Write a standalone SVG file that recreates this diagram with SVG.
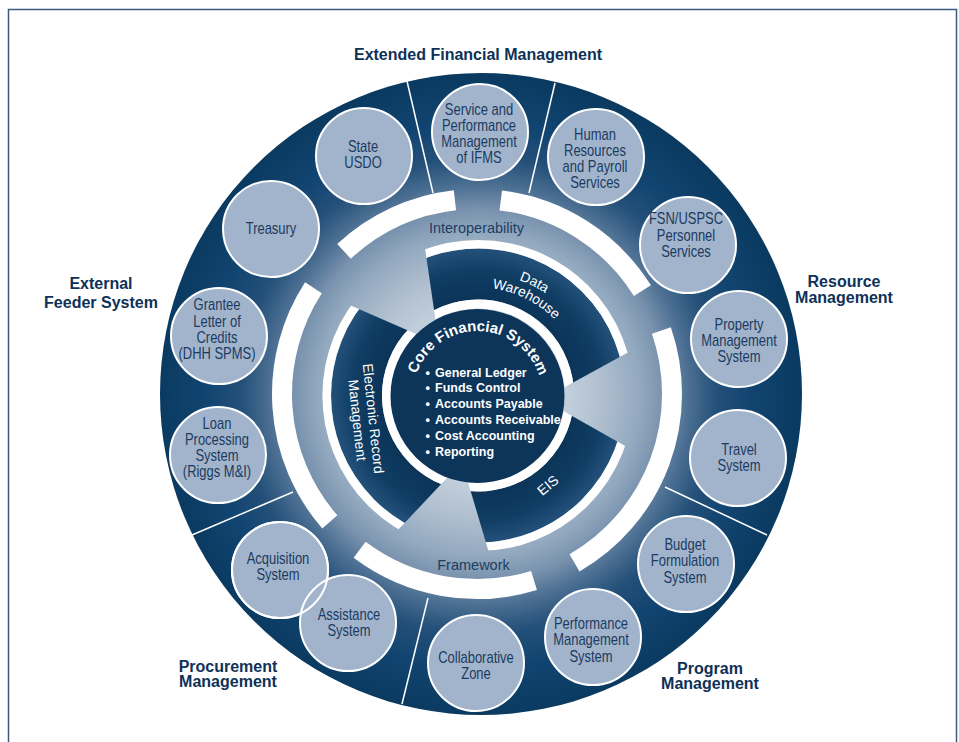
<svg xmlns="http://www.w3.org/2000/svg" width="959" height="742" viewBox="0 0 959 742">
  <defs>
    <radialGradient id="discFill" gradientUnits="userSpaceOnUse" cx="479" cy="395" r="321">
      <stop offset="0" stop-color="#d3dce6"/>
      <stop offset="0.25" stop-color="#c6d2de"/>
      <stop offset="0.38" stop-color="#b1c0d0"/>
      <stop offset="0.5" stop-color="#93a9bf"/>
      <stop offset="0.58" stop-color="#7891ad"/>
      <stop offset="0.65" stop-color="#4e7194"/>
      <stop offset="0.74" stop-color="#245079"/>
      <stop offset="0.85" stop-color="#114470"/>
      <stop offset="1" stop-color="#0a3a60"/>
    </radialGradient>
    <radialGradient id="ringFill" gradientUnits="userSpaceOnUse" cx="478" cy="395.5" r="147">
      <stop offset="0.65" stop-color="#0b3458"/>
      <stop offset="0.85" stop-color="#103d63"/>
      <stop offset="1" stop-color="#23517a"/>
    </radialGradient>
    <!-- baselines for the curved labels -->
    <path id="arcData" d="M410.38 293.34 A122.5 122.5 0 0 1 600.26 388.02"/>
    <path id="arcWarehouse" d="M418.40 305.44 A108 108 0 0 1 585.80 388.91"/>
    <path id="arcCore" d="M412.51 394.87 A65 65 0 0 1 542.49 397.13"/>
  </defs>
  <style>
    .frame { fill: none; stroke: #3a5b7b; stroke-width: 1.5; }
    .white-arc { fill: none; stroke: #ffffff; stroke-width: 20; }
    .divider { stroke: #ffffff; stroke-width: 1.5; }
    .node circle { fill: #a2b4cb; stroke: #ffffff; stroke-width: 2; }
    .node circle.edge-ring { fill: none; }
    .node text { font-family: "Liberation Sans", Arial, sans-serif; font-size: 16px; fill: #1b3b61; text-anchor: middle; }
    .group-label { font-family: "Liberation Sans", Arial, sans-serif; font-weight: bold; font-size: 16px; fill: #0e3157; text-anchor: middle; }
    .band-label { font-family: "Liberation Sans", Arial, sans-serif; font-size: 14.5px; fill: #1d3d62; text-anchor: middle; }
    .seg-label { font-family: "Liberation Sans", Arial, sans-serif; font-size: 14px; fill: #ffffff; text-anchor: middle; }
    .core-title { font-family: "Liberation Sans", Arial, sans-serif; font-weight: bold; font-size: 15px; fill: #ffffff; text-anchor: middle; }
    .core-item { font-family: "Liberation Sans", Arial, sans-serif; font-weight: bold; font-size: 12.5px; fill: #ffffff; }
  </style>

  <rect class="frame" x="8.5" y="9.5" width="948" height="760"/>

  <!-- outer disc -->
  <circle cx="481" cy="394" r="321" fill="url(#discFill)"/>

  <!-- inner rings around the core -->
  <g id="inner-rings">
    <circle cx="478" cy="395.5" r="121.5" fill="none" stroke="url(#ringFill)" stroke-width="51"/>
    <circle cx="478" cy="395.5" r="151.3" fill="none" stroke="#ffffff" stroke-width="8.6"/>
    <circle cx="478" cy="395.5" r="91.5" fill="none" stroke="#ffffff" stroke-width="9"/>
    <!-- light openings between the ring segments -->
    <polygon points="542.5,399.3 680,324 680,477" fill="url(#discFill)"/>
    <polygon points="462,462 332,600 503,600" fill="url(#discFill)"/>
    <polygon points="439,344 290,279 418,200" fill="url(#discFill)"/>
  </g>

  <!-- outer white band segments -->
  <g id="outer-band">
    <path class="white-arc" d="M344.01 251.39 A195 195 0 0 1 454.93 200.25"/>
    <path class="white-arc" d="M500.76 200.45 A195 195 0 0 1 642.37 290.67"/>
    <path class="white-arc" d="M661.38 330.51 A195 195 0 0 1 574.5 562.88"/>
    <path class="white-arc" d="M534.01 580.48 A195 195 0 0 1 359.65 549.73"/>
    <path class="white-arc" d="M329.83 521.93 A195 195 0 0 1 313.46 287.8"/>
  </g>

  <!-- sector dividers -->
  <g id="connectors">
    <line class="divider" x1="433" y1="193" x2="407" y2="81"/>
    <line class="divider" x1="529" y1="193" x2="555" y2="83"/>
    <line class="divider" x1="665" y1="487" x2="767" y2="535"/>
    <line class="divider" x1="428" y1="598" x2="402" y2="704"/>
    <line class="divider" x1="293" y1="492" x2="192" y2="535"/>
  </g>

  <!-- band labels -->
  <text class="band-label" x="476.5" y="233">Interoperability</text>
  <text class="band-label" x="473.5" y="570">Framework</text>

  <!-- ring segment labels -->
  <g id="data-warehouse">
    <text class="seg-label"><textPath href="#arcData" startOffset="50%">Data</textPath></text>
    <text class="seg-label"><textPath href="#arcWarehouse" startOffset="50%">Warehouse</textPath></text>
  </g>
  <g id="eis">
    <text class="seg-label" transform="translate(551 489) rotate(-40)">EIS</text>
  </g>
  <g id="electronic-record-management">
    <text class="seg-label" transform="translate(368.5 419) rotate(84)"><tspan x="0" y="0">Electronic Record</tspan><tspan x="0" y="16">Management</tspan></text>
  </g>

  <!-- core -->
  <g id="core-financial-system">
    <circle cx="477.5" cy="396" r="87" fill="#0d3459"/>
    <text class="core-title"><textPath href="#arcCore" startOffset="50%">Core Financial System</textPath></text>
    <text class="core-item" y="376.5"><tspan x="425.5">•</tspan><tspan x="435">General Ledger</tspan></text>
    <text class="core-item" y="392.4"><tspan x="425.5">•</tspan><tspan x="435">Funds Control</tspan></text>
    <text class="core-item" y="408.3"><tspan x="425.5">•</tspan><tspan x="435">Accounts Payable</tspan></text>
    <text class="core-item" y="424.2"><tspan x="425.5">•</tspan><tspan x="435">Accounts Receivable</tspan></text>
    <text class="core-item" y="440.1"><tspan x="425.5">•</tspan><tspan x="435">Cost Accounting</tspan></text>
    <text class="core-item" y="456"><tspan x="425.5">•</tspan><tspan x="435">Reporting</tspan></text>
  </g>

  <!-- system nodes -->
  <g id="state-usdo" class="node">
    <circle cx="364" cy="156" r="48"/>
    <text transform="translate(363 0) scale(0.81 1)"><tspan x="0" y="152">State</tspan><tspan x="0" y="168">USDO</tspan></text>
  </g>
  <g id="treasury" class="node">
    <circle cx="271" cy="229" r="48"/>
    <text transform="translate(271 0) scale(0.81 1)"><tspan x="0" y="234">Treasury</tspan></text>
  </g>
  <g id="service-performance-ifms" class="node">
    <circle cx="480" cy="132" r="48"/>
    <text transform="translate(479 0) scale(0.81 1)"><tspan x="0" y="115">Service and</tspan><tspan x="0" y="131">Performance</tspan><tspan x="0" y="147">Management</tspan><tspan x="0" y="163">of IFMS</tspan></text>
  </g>
  <g id="human-resources-payroll" class="node">
    <circle cx="596" cy="157" r="48"/>
    <text transform="translate(595 0) scale(0.81 1)"><tspan x="0" y="140">Human</tspan><tspan x="0" y="156">Resources</tspan><tspan x="0" y="172">and Payroll</tspan><tspan x="0" y="188">Services</tspan></text>
  </g>
  <g id="fsn-uspsc-personnel" class="node">
    <circle cx="688" cy="245" r="48"/>
    <text transform="translate(686 0) scale(0.81 1)"><tspan x="0" y="224">FSN/USPSC</tspan><tspan x="0" y="241">Personnel</tspan><tspan x="0" y="257">Services</tspan></text>
  </g>
  <g id="property-management" class="node">
    <circle cx="739" cy="339" r="48"/>
    <text transform="translate(739 0) scale(0.81 1)"><tspan x="0" y="330">Property</tspan><tspan x="0" y="346">Management</tspan><tspan x="0" y="362">System</tspan></text>
  </g>
  <g id="travel-system" class="node">
    <circle cx="738" cy="458" r="48"/>
    <text transform="translate(739 0) scale(0.81 1)"><tspan x="0" y="455">Travel</tspan><tspan x="0" y="471">System</tspan></text>
  </g>
  <g id="budget-formulation" class="node">
    <circle cx="686" cy="564" r="48"/>
    <text transform="translate(685 0) scale(0.81 1)"><tspan x="0" y="550">Budget</tspan><tspan x="0" y="566">Formulation</tspan><tspan x="0" y="583">System</tspan></text>
  </g>
  <g id="performance-management" class="node">
    <circle cx="593" cy="637" r="48"/>
    <text transform="translate(591 0) scale(0.81 1)"><tspan x="0" y="629">Performance</tspan><tspan x="0" y="645">Management</tspan><tspan x="0" y="662">System</tspan></text>
  </g>
  <g id="collaborative-zone" class="node">
    <circle cx="476" cy="663" r="48"/>
    <text transform="translate(476 0) scale(0.81 1)"><tspan x="0" y="663">Collaborative</tspan><tspan x="0" y="679">Zone</tspan></text>
  </g>
  <g id="acquisition-system" class="node">
    <circle cx="280" cy="570" r="48"/>
    <text transform="translate(278 0) scale(0.81 1)"><tspan x="0" y="564">Acquisition</tspan><tspan x="0" y="580">System</tspan></text>
  </g>
  <g id="assistance-system" class="node">
    <circle cx="348" cy="623" r="48"/>
    <circle class="edge-ring" cx="280" cy="570" r="48"/>
    <text transform="translate(349 0) scale(0.81 1)"><tspan x="0" y="620">Assistance</tspan><tspan x="0" y="636">System</tspan></text>
  </g>
  <g id="loan-processing" class="node">
    <circle cx="218" cy="455" r="48"/>
    <text transform="translate(217 0) scale(0.81 1)"><tspan x="0" y="429">Loan</tspan><tspan x="0" y="445">Processing</tspan><tspan x="0" y="461">System</tspan><tspan x="0" y="477">(Riggs M&amp;I)</tspan></text>
  </g>
  <g id="grantee-letter-of-credits" class="node">
    <circle cx="219" cy="336" r="48"/>
    <text transform="translate(217 0) scale(0.81 1)"><tspan x="0" y="310">Grantee</tspan><tspan x="0" y="327">Letter of</tspan><tspan x="0" y="343">Credits</tspan><tspan x="0" y="359">(DHH SPMS)</tspan></text>
  </g>

  <!-- sector titles -->
  <g id="sector-titles">
    <text class="group-label" x="478" y="60">Extended Financial Management</text>
    <text class="group-label"><tspan x="101" y="289">External</tspan><tspan x="101" y="308">Feeder System</tspan></text>
    <text class="group-label"><tspan x="844" y="287">Resource</tspan><tspan x="844" y="303">Management</tspan></text>
    <text class="group-label"><tspan x="228" y="672">Procurement</tspan><tspan x="228" y="687">Management</tspan></text>
    <text class="group-label"><tspan x="710" y="674">Program</tspan><tspan x="710" y="689">Management</tspan></text>
  </g>
</svg>
